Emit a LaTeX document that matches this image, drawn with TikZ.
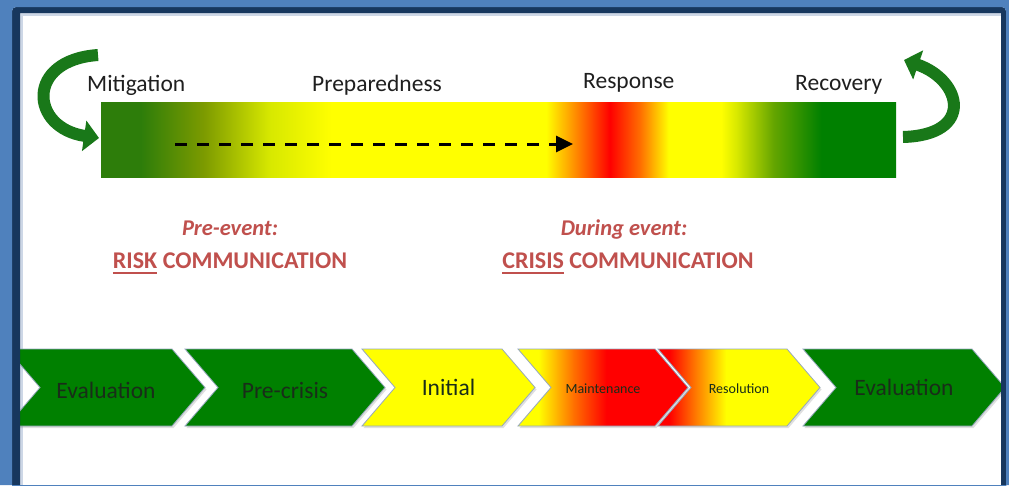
\documentclass[tikz,border=0pt]{standalone}
\usepackage{fontspec}
\setmainfont{Carlito}
\usetikzlibrary{arrows.meta,shadows}

\definecolor{frameblue}{RGB}{79,129,189}
\definecolor{framenavy}{RGB}{23,55,94}
\definecolor{frameedge}{RGB}{205,215,230}
\definecolor{darkgrn}{RGB}{45,125,10}
\definecolor{olivegrn}{RGB}{125,155,0}
\definecolor{limegrn}{RGB}{215,232,0}
\definecolor{pureylw}{RGB}{255,255,0}
\definecolor{hotorng}{RGB}{255,110,0}
\definecolor{purered}{RGB}{255,0,0}
\definecolor{midgrn}{RGB}{100,165,0}
\definecolor{phasegrn}{RGB}{0,128,0}
\definecolor{arrowgrn}{RGB}{25,120,25}
\definecolor{commred}{RGB}{192,80,77}
\definecolor{chevtxt}{RGB}{25,45,25}
\definecolor{chevline}{RGB}{150,168,190}

\pgfdeclarehorizontalshading{phasebar}{100bp}{%
  color(0bp)=(darkgrn); color(27.5bp)=(darkgrn); color(31.5bp)=(olivegrn);
  color(35.6bp)=(limegrn); color(39.5bp)=(pureylw); color(53bp)=(pureylw);
  color(55.3bp)=(hotorng); color(57bp)=(purered); color(58.9bp)=(hotorng);
  color(60.7bp)=(pureylw); color(64bp)=(pureylw); color(65bp)=(limegrn);
  color(67.3bp)=(midgrn); color(70.3bp)=(phasegrn); color(100bp)=(phasegrn)}
\pgfdeclarehorizontalshading{maintshade}{100bp}{%
  color(0bp)=(pureylw); color(31bp)=(pureylw); color(41.5bp)=(hotorng);
  color(51bp)=(purered); color(100bp)=(purered)}
\pgfdeclarehorizontalshading{resshade}{100bp}{%
  color(0bp)=(purered); color(28.5bp)=(purered); color(35.8bp)=(hotorng);
  color(46bp)=(pureylw); color(100bp)=(pureylw)}

\newcommand\uword[1]{\setbox0\hbox{#1}\rlap{\rule[-5.5pt]{\wd0}{2pt}}\box0\relax}

\tikzset{
  phaselabel/.style={font=\fontsize{23.5}{28}\selectfont, text=black!88, anchor=base west, inner sep=0},
  commhead/.style={font=\bfseries\itshape\fontsize{22.5}{27}\selectfont, text=commred, anchor=base, inner sep=0},
  commline/.style={font=\bfseries\fontsize{24}{29}\selectfont, text=commred, anchor=base, inner sep=0},
  chevbox/.style={draw=chevline, line width=.8pt,
    drop shadow={shadow xshift=1.5pt, shadow yshift=-2pt, opacity=.25}},
  chevgreen/.style={chevbox, fill=phasegrn},
  chevyellow/.style={chevbox, fill=pureylw},
  chevmaint/.style={chevbox, shade, shading=maintshade},
  chevres/.style={chevbox, shade, shading=resshade},
  bigtxt/.style={font=\fontsize{23.5}{28}\selectfont, text=chevtxt, anchor=base, inner sep=0},
  smalltxt/.style={font=\fontsize{14}{17}\selectfont, text=chevtxt, anchor=base, inner sep=0},
  cyclearrow/.style={arrowgrn, line width=12pt, -{Triangle[length=15pt,width=30pt]}},
  dashflow/.style={line width=3pt, dash pattern=on 12pt off 10pt, -{Triangle[length=17pt,width=16pt]}}
}

\begin{document}
\begin{tikzpicture}[x=1pt,y=-1pt]
\useasboundingbox (0,0) rectangle (1009,485);
\clip (0,0) rectangle (1009,485);
\fill[white] (0,0) rectangle (1009,485);
\fill[frameedge] (20,13) rectangle (1001,485);
\fill[white] (23,15.5) rectangle (1001,485);

% phase bar with the four labels
\shade[shading=phasebar] (101,102) rectangle (896,177);
\node[phaselabel] (mitigation) at (87,91) {Mitigation};
\node[phaselabel] (preparedness) at (312,91) {Preparedness};
\node[phaselabel] (response) at (583,88) {Response};
\node[phaselabel] (recovery) at (795,90) {Recovery};

\coordinate (dashfrom) at (175,144);
\coordinate (dashto) at (573,144);
\draw[dashflow] (dashfrom) -- (dashto);

% loop arrows at both ends
\coordinate (mittail) at (98,55);
\coordinate (mithead) at (99,138);
\draw[cyclearrow] (mittail) .. controls (25,60) and (30,128) .. (mithead);
\coordinate (rectail) at (903,137);
\coordinate (rechead) at (904,60);
\draw[cyclearrow] (rectail) .. controls (975,135) and (962,80) .. (rechead);

\node[commhead] (preevent) at (230,235) {Pre-event:};
\node[commline] (riskcomm) at (230,268) {\uword{RISK} COMMUNICATION};
\node[commhead] (duringevent) at (624,235) {During event:};
\node[commline] (crisiscomm) at (628,268) {\uword{CRISIS} COMMUNICATION};

% chevrons: left x, top right x, baseline, style, text size, name, text
\foreach \L/\R/\B/\st/\sz/\nm/\txt in {
  7/172/398/chevgreen/bigtxt/evalbefore/Evaluation,
  185/352/398/chevgreen/bigtxt/precrisis/Pre-crisis,
  362/502/395/chevyellow/bigtxt/initial/Initial,
  518/655/393/chevmaint/smalltxt/maintenance/Maintenance,
  658/787/393/chevres/smalltxt/resolution/Resolution,
  803/972/395/chevgreen/bigtxt/evalafter/Evaluation}{
  \path[\st] (\L,349) -- (\R,349) -- ++(33,38.5) -- (\R,426) -- (\L,426) -- ++(33,-38.5) -- cycle;
  \node[\sz] (\nm) at ({(\L+\R+33)/2},\B) {\txt};
}

% frame drawn last so the end chevrons tuck under it
\fill[framenavy, even odd rule] [rounded corners=4pt] (12,7) rectangle (1006,500)
  [sharp corners] (20,13) rectangle (1001,500);
\fill[frameblue, even odd rule] (0,0) rectangle (1009,485)
  [rounded corners=4pt] (12,7) rectangle (1006,500);
\end{tikzpicture}
\end{document}
